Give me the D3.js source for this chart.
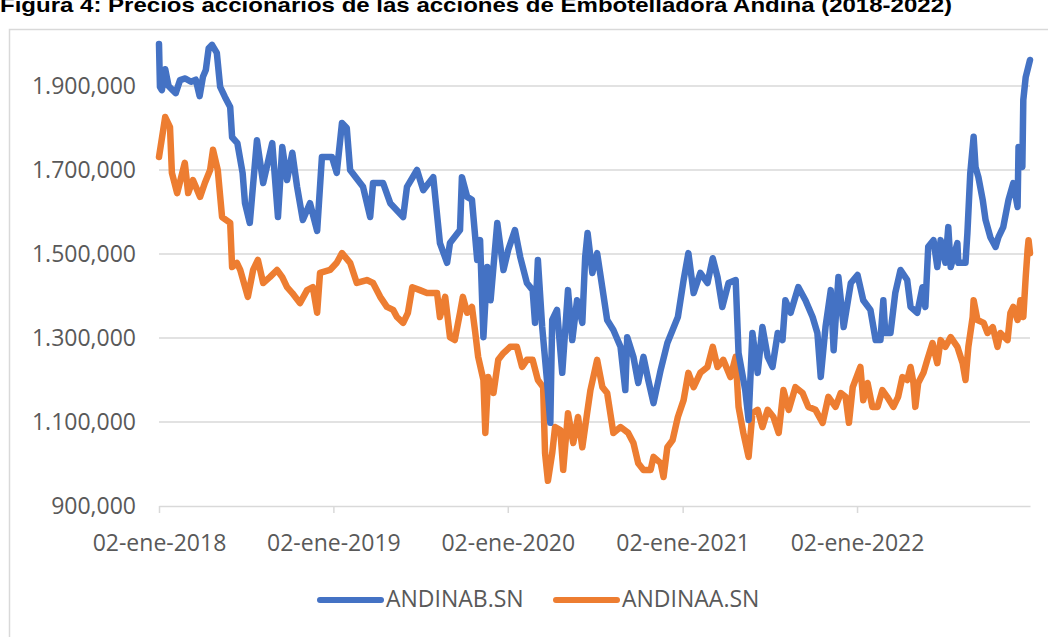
<!DOCTYPE html>
<html>
<head>
<meta charset="utf-8">
<script src="https://cdn.jsdelivr.net/npm/d3@7"></script>
<style>
  body { margin: 0; background: #fff; }
  svg { display: block; }
</style>
</head>
<body>
<svg id="chart" width="1048" height="637"></svg>
<script>
'use strict';

var chartTitle = 'Figura 4: Precios accionarios de las acciones de Embotelladora Andina (2018-2022)';
var seriesNames = ['ANDINAB.SN', 'ANDINAA.SN'];
var yTicks = [900000, 1100000, 1300000, 1500000, 1700000, 1900000];
var yTickLabels = ['900,000', '1.100,000', '1.300,000', '1.500,000', '1.700,000', '1.900,000'];
var xTicks = ['2018-01-02', '2019-01-02', '2020-01-02', '2021-01-02', '2022-01-02'];
var xTickLabels = ['02-ene-2018', '02-ene-2019', '02-ene-2020', '02-ene-2021', '02-ene-2022'];

// closing prices (CLP)
var andinab = [
  ['2018-01-02', 2000000], ['2018-01-04', 1898000], ['2018-01-08', 1890000], ['2018-01-15', 1940000],
  ['2018-01-22', 1900000], ['2018-01-29', 1892000], ['2018-02-06', 1883000], ['2018-02-15', 1914000],
  ['2018-02-26', 1918000], ['2018-03-10', 1910000], ['2018-03-20', 1915000], ['2018-03-28', 1876000],
  ['2018-04-04', 1922000], ['2018-04-10', 1938000], ['2018-04-16', 1990000], ['2018-04-23', 1998000],
  ['2018-05-03', 1979000], ['2018-05-10', 1898000], ['2018-05-20', 1874000], ['2018-05-31', 1850000],
  ['2018-06-04', 1778000], ['2018-06-15', 1764000], ['2018-06-26', 1693000], ['2018-07-01', 1621000],
  ['2018-07-11', 1574000], ['2018-07-26', 1771000], ['2018-08-08', 1669000], ['2018-08-27', 1764000],
  ['2018-09-08', 1588000], ['2018-09-17', 1755000], ['2018-09-27', 1676000], ['2018-10-08', 1741000],
  ['2018-10-18', 1660000], ['2018-10-30', 1581000], ['2018-11-14', 1621000], ['2018-11-29', 1555000],
  ['2018-12-09', 1731000], ['2018-12-30', 1731000], ['2019-01-09', 1693000], ['2019-01-20', 1812000],
  ['2019-01-30', 1800000], ['2019-02-06', 1700000], ['2019-03-05', 1660000], ['2019-03-20', 1588000],
  ['2019-03-26', 1669000], ['2019-04-16', 1669000], ['2019-05-01', 1621000], ['2019-05-28', 1588000],
  ['2019-06-05', 1660000], ['2019-06-26', 1700000], ['2019-07-09', 1652000], ['2019-07-30', 1683000],
  ['2019-08-13', 1526000], ['2019-08-28', 1479000], ['2019-09-03', 1526000], ['2019-09-24', 1557000],
  ['2019-09-28', 1683000], ['2019-10-09', 1636000], ['2019-10-19', 1629000], ['2019-10-30', 1486000],
  ['2019-11-05', 1533000], ['2019-11-12', 1302000], ['2019-11-20', 1469000], ['2019-11-27', 1390000],
  ['2019-12-11', 1574000], ['2019-12-24', 1462000], ['2020-01-03', 1510000], ['2020-01-17', 1557000],
  ['2020-01-28', 1493000], ['2020-02-11', 1431000], ['2020-02-23', 1414000], ['2020-02-28', 1336000],
  ['2020-03-05', 1486000], ['2020-03-14', 1326000], ['2020-03-24', 1200000], ['2020-03-31', 1098000],
  ['2020-04-04', 1343000], ['2020-04-14', 1367000], ['2020-04-25', 1217000], ['2020-05-07', 1414000],
  ['2020-05-16', 1295000], ['2020-05-26', 1390000], ['2020-06-06', 1336000], ['2020-06-12', 1493000],
  ['2020-06-17', 1550000], ['2020-06-27', 1455000], ['2020-07-07', 1502000], ['2020-07-18', 1419000],
  ['2020-07-28', 1343000], ['2020-08-10', 1319000], ['2020-08-25', 1279000], ['2020-09-04', 1176000],
  ['2020-09-08', 1302000], ['2020-09-21', 1255000], ['2020-10-01', 1193000], ['2020-10-12', 1255000],
  ['2020-10-22', 1200000], ['2020-11-02', 1145000], ['2020-11-17', 1224000], ['2020-12-01', 1288000],
  ['2020-12-12', 1319000], ['2020-12-23', 1350000], ['2021-01-04', 1438000], ['2021-01-14', 1502000],
  ['2021-01-25', 1407000], ['2021-02-08', 1455000], ['2021-02-23', 1431000], ['2021-03-06', 1490000],
  ['2021-03-16', 1445000], ['2021-03-26', 1374000], ['2021-04-08', 1431000], ['2021-04-23', 1438000],
  ['2021-04-29', 1264000], ['2021-05-13', 1176000], ['2021-05-20', 1105000], ['2021-05-28', 1312000],
  ['2021-06-08', 1217000], ['2021-06-18', 1326000], ['2021-06-29', 1255000], ['2021-07-09', 1231000],
  ['2021-07-20', 1312000], ['2021-07-30', 1295000], ['2021-08-05', 1390000], ['2021-08-16', 1360000],
  ['2021-09-01', 1421000], ['2021-09-16', 1390000], ['2021-10-01', 1350000], ['2021-10-11', 1312000],
  ['2021-10-18', 1207000], ['2021-10-28', 1326000], ['2021-11-08', 1414000], ['2021-11-14', 1271000],
  ['2021-11-24', 1445000], ['2021-12-05', 1326000], ['2021-12-20', 1431000], ['2022-01-03', 1450000],
  ['2022-01-15', 1390000], ['2022-01-30', 1367000], ['2022-02-10', 1295000], ['2022-02-20', 1295000],
  ['2022-02-26', 1390000], ['2022-03-02', 1312000], ['2022-03-13', 1312000], ['2022-03-23', 1407000],
  ['2022-04-03', 1462000], ['2022-04-17', 1438000], ['2022-04-24', 1374000], ['2022-05-08', 1360000],
  ['2022-05-19', 1421000], ['2022-05-25', 1374000], ['2022-05-31', 1517000], ['2022-06-11', 1533000],
  ['2022-06-19', 1469000], ['2022-06-26', 1533000], ['2022-07-06', 1479000], ['2022-07-12', 1564000],
  ['2022-07-17', 1469000], ['2022-07-31', 1526000], ['2022-08-02', 1479000], ['2022-08-17', 1479000],
  ['2022-08-21', 1550000], ['2022-08-27', 1693000], ['2022-09-03', 1779000], ['2022-09-07', 1707000],
  ['2022-09-13', 1683000], ['2022-09-22', 1629000], ['2022-09-28', 1581000], ['2022-10-08', 1540000],
  ['2022-10-19', 1517000], ['2022-10-25', 1540000], ['2022-11-04', 1564000], ['2022-11-15', 1629000],
  ['2022-11-25', 1669000], ['2022-12-04', 1612000], ['2022-12-06', 1755000], ['2022-12-14', 1707000],
  ['2022-12-16', 1867000], ['2022-12-21', 1921000], ['2022-12-30', 1962000]
];

var andinaa = [
  ['2018-01-02', 1731000], ['2018-01-15', 1826000], ['2018-01-25', 1802000], ['2018-01-29', 1693000],
  ['2018-02-09', 1645000], ['2018-02-25', 1717000], ['2018-03-04', 1645000], ['2018-03-14', 1676000],
  ['2018-03-29', 1636000], ['2018-04-08', 1669000], ['2018-04-19', 1700000], ['2018-04-25', 1748000],
  ['2018-05-05', 1700000], ['2018-05-14', 1588000], ['2018-05-31', 1574000], ['2018-06-04', 1469000],
  ['2018-06-14', 1479000], ['2018-06-21', 1462000], ['2018-07-07', 1398000], ['2018-07-18', 1462000],
  ['2018-07-28', 1486000], ['2018-08-08', 1431000], ['2018-08-22', 1445000], ['2018-09-06', 1462000],
  ['2018-09-17', 1445000], ['2018-09-27', 1421000], ['2018-10-08', 1407000], ['2018-10-24', 1383000],
  ['2018-11-08', 1414000], ['2018-11-20', 1421000], ['2018-11-29', 1360000], ['2018-12-05', 1455000],
  ['2018-12-26', 1462000], ['2019-01-09', 1479000], ['2019-01-20', 1502000], ['2019-02-06', 1479000],
  ['2019-02-20', 1431000], ['2019-03-13', 1438000], ['2019-03-26', 1431000], ['2019-04-10', 1398000],
  ['2019-04-24', 1374000], ['2019-05-07', 1367000], ['2019-05-15', 1350000], ['2019-05-28', 1336000],
  ['2019-06-07', 1360000], ['2019-06-16', 1421000], ['2019-07-02', 1414000], ['2019-07-17', 1407000],
  ['2019-08-07', 1407000], ['2019-08-13', 1350000], ['2019-08-24', 1398000], ['2019-09-03', 1302000],
  ['2019-09-13', 1295000], ['2019-09-24', 1360000], ['2019-09-30', 1398000], ['2019-10-09', 1360000],
  ['2019-10-19', 1374000], ['2019-10-26', 1312000], ['2019-11-01', 1255000], ['2019-11-12', 1200000],
  ['2019-11-16', 1074000], ['2019-11-22', 1207000], ['2019-12-03', 1169000], ['2019-12-13', 1248000],
  ['2019-12-24', 1264000], ['2020-01-07', 1279000], ['2020-01-21', 1279000], ['2020-02-01', 1231000],
  ['2020-02-11', 1248000], ['2020-02-23', 1248000], ['2020-03-05', 1200000], ['2020-03-16', 1183000],
  ['2020-03-20', 1026000], ['2020-03-26', 960000], ['2020-04-04', 1026000], ['2020-04-10', 1088000],
  ['2020-04-21', 1081000], ['2020-04-27', 986000], ['2020-05-07', 1121000], ['2020-05-18', 1050000],
  ['2020-05-28', 1112000], ['2020-06-06', 1040000], ['2020-06-16', 1121000], ['2020-06-23', 1176000],
  ['2020-07-07', 1248000], ['2020-07-18', 1183000], ['2020-07-28', 1169000], ['2020-08-10', 1074000],
  ['2020-08-25', 1088000], ['2020-09-10', 1074000], ['2020-09-21', 1050000], ['2020-10-01', 1002000],
  ['2020-10-12', 986000], ['2020-10-27', 986000], ['2020-11-02', 1017000], ['2020-11-17', 1002000],
  ['2020-11-23', 969000], ['2020-12-01', 1040000], ['2020-12-12', 1057000], ['2020-12-23', 1112000],
  ['2021-01-04', 1152000], ['2021-01-14', 1217000], ['2021-01-25', 1183000], ['2021-02-08', 1217000],
  ['2021-02-23', 1231000], ['2021-03-06', 1279000], ['2021-03-16', 1231000], ['2021-03-28', 1248000],
  ['2021-04-12', 1207000], ['2021-04-23', 1255000], ['2021-04-29', 1136000], ['2021-05-09', 1074000],
  ['2021-05-20', 1017000], ['2021-05-28', 1121000], ['2021-06-08', 1129000], ['2021-06-18', 1088000],
  ['2021-06-29', 1129000], ['2021-07-11', 1112000], ['2021-07-22', 1074000], ['2021-08-01', 1176000],
  ['2021-08-12', 1129000], ['2021-08-26', 1183000], ['2021-09-10', 1169000], ['2021-09-22', 1136000],
  ['2021-10-07', 1129000], ['2021-10-22', 1098000], ['2021-11-03', 1160000], ['2021-11-18', 1136000],
  ['2021-11-29', 1169000], ['2021-12-09', 1160000], ['2021-12-16', 1098000], ['2021-12-24', 1183000],
  ['2022-01-09', 1231000], ['2022-01-15', 1152000], ['2022-01-24', 1193000], ['2022-02-03', 1136000],
  ['2022-02-14', 1136000], ['2022-02-24', 1176000], ['2022-03-06', 1160000], ['2022-03-19', 1136000],
  ['2022-03-29', 1160000], ['2022-04-07', 1207000], ['2022-04-17', 1200000], ['2022-04-24', 1231000],
  ['2022-04-30', 1193000], ['2022-05-04', 1136000], ['2022-05-10', 1193000], ['2022-05-21', 1217000],
  ['2022-05-29', 1248000], ['2022-06-09', 1288000], ['2022-06-19', 1240000], ['2022-06-26', 1295000],
  ['2022-07-06', 1279000], ['2022-07-17', 1302000], ['2022-07-31', 1279000], ['2022-08-11', 1240000],
  ['2022-08-17', 1200000], ['2022-08-23', 1279000], ['2022-09-01', 1350000], ['2022-09-03', 1390000],
  ['2022-09-11', 1343000], ['2022-09-24', 1336000], ['2022-10-02', 1312000], ['2022-10-13', 1326000],
  ['2022-10-23', 1279000], ['2022-10-29', 1312000], ['2022-11-13', 1295000], ['2022-11-19', 1360000],
  ['2022-11-25', 1374000], ['2022-12-04', 1343000], ['2022-12-10', 1390000], ['2022-12-16', 1350000],
  ['2022-12-21', 1445000], ['2022-12-25', 1510000], ['2022-12-27', 1533000], ['2022-12-30', 1502000]
];

var colors = ['#4472C4', '#ED7D31'];
var labelFont = '"Open Sans", sans-serif';
var labelColor = '#595959';
var gridColor = '#D9D9D9';

var parseDate = d3.timeParse('%Y-%m-%d');

function toPoints(rows) {
  return rows.map(function(row) {
    return { date: parseDate(row[0]), value: row[1] };
  });
}

var series = [toPoints(andinab), toPoints(andinaa)];

var svg = d3.select('#chart');

var plot = { left: 159, right: 1030, top: 44, bottom: 506 };

var x = d3.scaleTime()
  .domain([parseDate('2018-01-02'), parseDate('2022-12-30')])
  .range([plot.left, plot.right]);

var y = d3.scaleLinear()
  .domain([900000, 2000000])
  .range([plot.bottom, plot.top]);

// outer frame of the chart area
svg.append('rect')
  .attr('x', 9.5)
  .attr('y', 29.5)
  .attr('width', 1060)
  .attr('height', 640)
  .attr('fill', 'none')
  .attr('stroke', gridColor)
  .attr('stroke-width', 1.5);

svg.append('text')
  .attr('x', 0)
  .attr('y', 12)
  .attr('textLength', 952)
  .attr('lengthAdjust', 'spacingAndGlyphs')
  .style('font-family', '"Liberation Sans", Arial, sans-serif')
  .style('font-weight', 'bold')
  .style('font-size', '21px')
  .style('fill', '#000')
  .text(chartTitle);

// horizontal gridlines (the bottom one is the axis line)
svg.append('g')
  .selectAll('line')
  .data(yTicks.slice(1))
  .enter()
  .append('line')
  .attr('x1', plot.left)
  .attr('x2', plot.right)
  .attr('y1', function(d) { return y(d); })
  .attr('y2', function(d) { return y(d); })
  .attr('stroke', gridColor)
  .attr('stroke-width', 1.5);

var yAxis = d3.axisLeft(y)
  .tickValues(yTicks)
  .tickSize(0)
  .tickPadding(23)
  .tickFormat(function(d, i) { return yTickLabels[i]; });

var gy = svg.append('g')
  .attr('transform', 'translate(' + plot.left + ',0)')
  .call(yAxis);
gy.select('.domain').remove();
gy.selectAll('text')
  .style('font-family', labelFont)
  .style('font-size', '23px')
  .style('fill', labelColor);

var xAxis = d3.axisBottom(x)
  .tickValues(xTicks.map(parseDate))
  .tickSize(7)
  .tickSizeOuter(0)
  .tickPadding(22)
  .tickFormat(function(d, i) { return xTickLabels[i]; });

var gx = svg.append('g')
  .attr('transform', 'translate(0,' + plot.bottom + ')')
  .call(xAxis);
gx.select('.domain')
  .attr('stroke', gridColor)
  .attr('stroke-width', 1.5);
gx.selectAll('.tick line')
  .attr('stroke', gridColor)
  .attr('stroke-width', 1.5);
gx.selectAll('text')
  .style('font-family', labelFont)
  .style('font-size', '23px')
  .style('fill', labelColor);

var line = d3.line()
  .x(function(d) { return x(d.date); })
  .y(function(d) { return y(d.value); });

// orange drawn first so the blue series sits on top where they cross
[1, 0].forEach(function(i) {
  svg.append('path')
    .datum(series[i])
    .attr('d', line)
    .attr('fill', 'none')
    .attr('stroke', colors[i])
    .attr('stroke-width', 6.5)
    .attr('stroke-linejoin', 'round')
    .attr('stroke-linecap', 'round');
});

// legend
var legendX = [320, 556];
var legend = svg.append('g')
  .selectAll('g')
  .data(seriesNames)
  .enter()
  .append('g')
  .attr('transform', function(d, i) {
    return 'translate(' + legendX[i] + ',600)';
  });

legend.append('line')
  .attr('x1', 0)
  .attr('x2', 61)
  .attr('stroke', function(d, i) { return colors[i]; })
  .attr('stroke-width', 6)
  .attr('stroke-linecap', 'round');

legend.append('text')
  .attr('x', 66)
  .attr('y', 7)
  .style('font-family', labelFont)
  .style('font-size', '23px')
  .style('fill', labelColor)
  .text(function(d) { return d; });
</script>
</body>
</html>
